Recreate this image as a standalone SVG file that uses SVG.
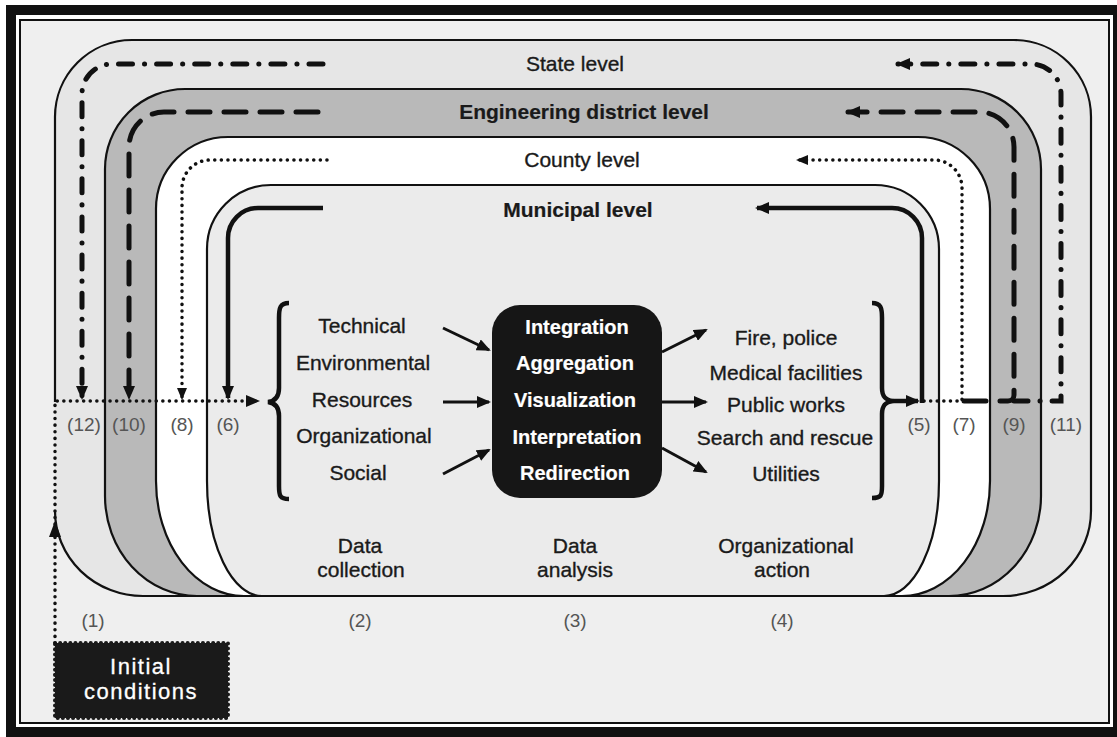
<svg xmlns="http://www.w3.org/2000/svg" width="1117" height="737" viewBox="0 0 1117 737">
<defs>
<style>
.edge{stroke:#111;stroke-width:2.2}
.t{font-family:"Liberation Sans",Arial,sans-serif;font-size:21px;fill:#1a1a1a;stroke:#1a1a1a;stroke-width:0.35;text-anchor:middle}
.b{font-weight:bold;stroke-width:0.2}
.w{fill:#fff;stroke:#fff;stroke-width:0.2;font-weight:bold;font-size:20px}
.n{font-size:19px;fill:#555;stroke:none}
.ic{fill:#fff;stroke:#fff;stroke-width:0.3;font-size:22px;letter-spacing:1.5px}
.sdd{fill:none;stroke:#111;stroke-width:5;stroke-linecap:round;stroke-dasharray:14 12 0.1 12}
.sds{fill:none;stroke:#111;stroke-width:5;stroke-linecap:round;stroke-dasharray:22 14}
.sdt{fill:none;stroke:#111;stroke-width:3.5;stroke-linecap:round;stroke-dasharray:0.1 6.5}
.ssl{fill:none;stroke:#111;stroke-width:4.5}
.sa{fill:none;stroke:#111;stroke-width:3}
.hd{fill:#111}
</style>
<marker id="ah" viewBox="0 0 14 12" refX="12" refY="6" markerWidth="14" markerHeight="12" markerUnits="userSpaceOnUse" orient="auto">
<path d="M0,0 L14,6 L0,12 Z" fill="#111"/>
</marker>
<marker id="ahs" viewBox="0 0 12 10" refX="10" refY="5" markerWidth="12" markerHeight="10" markerUnits="userSpaceOnUse" orient="auto">
<path d="M0,0 L12,5 L0,10 Z" fill="#111"/>
</marker>
</defs>

<g id="frame">
<rect x="0" y="0" width="1117" height="737" fill="#fff"/>
<rect x="6" y="5" width="1111" height="732" fill="#111"/>
<rect x="16" y="15" width="1097" height="712" fill="#fff"/>
<rect x="20" y="20" width="1089" height="703" fill="#efefef" stroke="#111" stroke-width="2"/>
</g>

<g id="state-level">
<path d="M55,117 A77,77 0 0 1 132,40 H1014 A77,77 0 0 1 1091,117 V511 A88,85 0 0 1 1003,596 H143 A88,85 0 0 1 55,511 Z" fill="#e6e6e6"/>
<path class="edge" fill="none" d="M55,402 V117 A77,77 0 0 1 132,40 H1014 A77,77 0 0 1 1091,117 V511 A88,85 0 0 1 1003,596 H143 A88,85 0 0 1 55,511"/>
<text class="t" x="575" y="71">State level</text>
</g>

<g id="engineering-district-level">
<path class="edge" d="M105,169 A80,80 0 0 1 185,89 H961 A80,80 0 0 1 1041,169 V496 A92,100 0 0 1 949,596 H197 A92,100 0 0 1 105,496 Z" fill="#b9b9b9"/>
<text class="t b" x="584" y="119">Engineering district level</text>
</g>

<g id="county-level">
<path class="edge" d="M156,209 A72,72 0 0 1 228,137 H918 A72,72 0 0 1 990,209 V481 A88,115 0 0 1 902,596 H244 A88,115 0 0 1 156,481 Z" fill="#ffffff"/>
<text class="t" x="582" y="167">County level</text>
</g>

<g id="municipal-level">
<path class="edge" d="M207,249 A64,64 0 0 1 271,185 H875 A64,64 0 0 1 939,249 V481 A55,115 0 0 1 884,596 H262 A55,115 0 0 1 207,481 Z" fill="#ebebeb"/>
<text class="t b" x="578" y="217">Municipal level</text>
</g>

<g id="data-collection">
<path d="M289,303 C280,303 279,308 279,318 L279,388 C279,396 276,401 268,402 C276,403 279,408 279,416 L279,486 C279,496 280,499 289,499" fill="none" stroke="#111" stroke-width="4.5"/>
<text class="t" x="362" y="333">Technical</text>
<text class="t" x="363" y="370">Environmental</text>
<text class="t" x="362" y="407">Resources</text>
<text class="t" x="364" y="443">Organizational</text>
<text class="t" x="358" y="480">Social</text>
<text class="t" x="360" y="553">Data</text>
<text class="t" x="361" y="577">collection</text>
</g>

<g id="data-analysis">
<rect x="492" y="305" width="170" height="193" rx="28" fill="#161616"/>
<text class="t w" x="577" y="334">Integration</text>
<text class="t w" x="575" y="370">Aggregation</text>
<text class="t w" x="575" y="407">Visualization</text>
<text class="t w" x="577" y="444">Interpretation</text>
<text class="t w" x="575" y="480">Redirection</text>
<text class="t" x="575" y="553">Data</text>
<text class="t" x="575" y="577">analysis</text>
</g>

<g id="organizational-action">
<path d="M872,303 C881,303 882,308 882,318 L882,388 C882,396 885,400 893,401 C885,402 882,406 882,414 L882,486 C882,496 881,498 872,498" fill="none" stroke="#111" stroke-width="4.5"/>
<text class="t" x="786" y="345">Fire, police</text>
<text class="t" x="786" y="380">Medical facilities</text>
<text class="t" x="786" y="412">Public works</text>
<text class="t" x="785" y="445">Search and rescue</text>
<text class="t" x="786" y="481">Utilities</text>
<text class="t" x="786" y="553">Organizational</text>
<text class="t" x="782" y="577">action</text>
</g>

<g id="initial-conditions">
<rect x="55" y="643" width="173" height="75" fill="#1a1a1a" stroke="#1a1a1a" stroke-width="4" stroke-dasharray="0.1 5" stroke-linecap="round"/>
<text class="t ic" x="141" y="674">Initial</text>
<text class="t ic" x="141" y="699">conditions</text>
</g>

<g id="step-labels">
<text class="t n" x="93" y="627">(1)</text>
<text class="t n" x="360" y="627">(2)</text>
<text class="t n" x="575" y="627">(3)</text>
<text class="t n" x="782" y="627">(4)</text>
<text class="t n" x="919" y="431">(5)</text>
<text class="t n" x="228" y="431">(6)</text>
<text class="t n" x="964" y="431">(7)</text>
<text class="t n" x="182" y="431">(8)</text>
<text class="t n" x="1014" y="431">(9)</text>
<text class="t n" x="129" y="431">(10)</text>
<text class="t n" x="1066" y="431">(11)</text>
<text class="t n" x="84" y="431">(12)</text>
</g>

<g id="connectors">
<path class="sdt" d="M55,643 V401 H258" marker-end="url(#ah)"/>
<path class="hd" d="M55,521 L49,537 L61,537 Z"/>
<path class="sdd" d="M323,64 H112 A30,30 0 0 0 82,94 V398" marker-end="url(#ah)"/>
<path class="sdd" d="M1014,401 H1061 V94 A30,30 0 0 0 1031,64 H898" marker-end="url(#ah)"/>
<path class="sds" d="M318,112 H164 A35,35 0 0 0 129,147 V398" marker-end="url(#ah)"/>
<path class="sds" d="M964,401 H1008 A6,6 0 0 0 1014,395 V147 A35,35 0 0 0 979,112 H848" marker-end="url(#ah)"/>
<path class="sdt" d="M327,160 H210 A28,28 0 0 0 182,188 V398" marker-end="url(#ahs)"/>
<path class="sdt" d="M924,401 H962 V188 A28,28 0 0 0 934,160 H798" marker-end="url(#ahs)"/>
<path class="ssl" d="M323,208 H258 A30,30 0 0 0 228,238 V398" marker-end="url(#ah)"/>
<path class="ssl" d="M893,401 H918" marker-end="url(#ah)"/>
<path class="ssl" d="M922,403 V238 A30,30 0 0 0 892,208 H757" marker-end="url(#ah)"/>
<path class="sa" d="M443,328 L489,350" marker-end="url(#ah)"/>
<path class="sa" d="M443,402 L489,402" marker-end="url(#ah)"/>
<path class="sa" d="M443,474 L489,450" marker-end="url(#ah)"/>
<path class="sa" d="M662,352 L706,330" marker-end="url(#ah)"/>
<path class="sa" d="M662,402 L706,402" marker-end="url(#ah)"/>
<path class="sa" d="M662,448 L706,472" marker-end="url(#ah)"/>
</g>
</svg>
